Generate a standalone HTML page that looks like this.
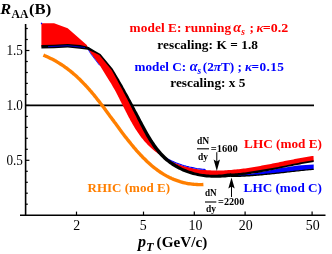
<!DOCTYPE html>
<html><head><meta charset="utf-8"><style>
html,body{margin:0;padding:0;background:#fff;}
svg{display:block;will-change:transform}
text{font-family:"Liberation Serif",serif;}
.b{font-weight:bold}
.i{font-style:italic}
</style></head><body>
<svg width="332" height="254" viewBox="0 0 332 254">
<rect width="332" height="254" fill="#fff"/>
<line x1="25.6" y1="24" x2="25.6" y2="216.0" stroke="#000" stroke-width="1.6"/>
<line x1="20" y1="215.2" x2="325.5" y2="215.2" stroke="#000" stroke-width="1.6"/>
<line x1="25.6" y1="105.4" x2="314" y2="105.4" stroke="#000" stroke-width="1.7"/>
<line x1="25.6" y1="204.2" x2="27.8" y2="204.2" stroke="#000" stroke-width="1.2"/>
<line x1="25.6" y1="193.2" x2="27.8" y2="193.2" stroke="#000" stroke-width="1.2"/>
<line x1="25.6" y1="182.3" x2="27.8" y2="182.3" stroke="#000" stroke-width="1.2"/>
<line x1="25.6" y1="171.3" x2="27.8" y2="171.3" stroke="#000" stroke-width="1.2"/>
<line x1="25.6" y1="160.3" x2="29.4" y2="160.3" stroke="#000" stroke-width="1.2"/>
<line x1="25.6" y1="149.3" x2="27.8" y2="149.3" stroke="#000" stroke-width="1.2"/>
<line x1="25.6" y1="138.3" x2="27.8" y2="138.3" stroke="#000" stroke-width="1.2"/>
<line x1="25.6" y1="127.4" x2="27.8" y2="127.4" stroke="#000" stroke-width="1.2"/>
<line x1="25.6" y1="116.4" x2="27.8" y2="116.4" stroke="#000" stroke-width="1.2"/>
<line x1="25.6" y1="105.4" x2="29.4" y2="105.4" stroke="#000" stroke-width="1.2"/>
<line x1="25.6" y1="94.4" x2="27.8" y2="94.4" stroke="#000" stroke-width="1.2"/>
<line x1="25.6" y1="83.4" x2="27.8" y2="83.4" stroke="#000" stroke-width="1.2"/>
<line x1="25.6" y1="72.5" x2="27.8" y2="72.5" stroke="#000" stroke-width="1.2"/>
<line x1="25.6" y1="61.5" x2="27.8" y2="61.5" stroke="#000" stroke-width="1.2"/>
<line x1="25.6" y1="50.5" x2="29.4" y2="50.5" stroke="#000" stroke-width="1.2"/>
<line x1="25.6" y1="39.5" x2="27.8" y2="39.5" stroke="#000" stroke-width="1.2"/>
<line x1="25.6" y1="28.5" x2="27.8" y2="28.5" stroke="#000" stroke-width="1.2"/>
<line x1="76.5" y1="215.2" x2="76.5" y2="211.6" stroke="#000" stroke-width="1.2"/>
<line x1="143.5" y1="215.2" x2="143.5" y2="211.6" stroke="#000" stroke-width="1.2"/>
<line x1="194.3" y1="215.2" x2="194.3" y2="211.6" stroke="#000" stroke-width="1.2"/>
<line x1="245.1" y1="215.2" x2="245.1" y2="211.6" stroke="#000" stroke-width="1.2"/>
<line x1="312.1" y1="215.2" x2="312.1" y2="211.6" stroke="#000" stroke-width="1.2"/>
<polygon points="41.4,23.2 54.1,23.2 67.7,28.3 86.8,45.0 88.2,48.2 88.2,48.4 80.0,46.9 67.7,45.7 54.0,46.5 41.4,46.8" fill="#ff0000"/>
<polygon points="87.0,47.0 90.9,53.6 99.9,65.4 105.4,74.5 109.6,81.2 110.4,82.4 111.1,83.6 111.9,84.9 112.6,86.2 113.3,87.4 114.1,88.7 114.8,90.0 115.5,91.3 116.2,92.6 116.9,94.0 117.6,95.3 118.3,96.7 119.0,98.0 119.7,99.4 120.3,100.7 121.0,102.1 121.7,103.5 122.4,104.8 123.1,106.2 123.8,107.6 124.5,109.0 125.2,110.3 125.9,111.7 126.6,113.1 127.3,114.5 128.0,115.8 128.7,117.2 129.5,118.6 130.2,119.9 130.9,121.3 131.7,122.6 132.5,124.0 133.2,125.3 134.0,126.6 134.8,127.9 135.6,129.2 136.5,130.5 137.3,131.8 138.2,133.0 139.0,134.3 139.9,135.5 140.8,136.7 141.7,137.9 142.7,139.1 143.6,140.3 144.6,141.4 145.6,142.5 146.6,143.6 147.6,144.7 148.7,145.8 149.8,146.8 150.9,147.8 152.0,148.8 153.1,149.8 154.3,150.8 155.5,151.7 156.7,152.6 157.9,153.5 159.1,154.3 160.4,155.2 161.7,156.0 163.0,156.8 164.2,157.6 165.6,158.3 166.9,159.0 168.2,159.7 169.6,160.4 170.9,161.1 172.3,161.7 173.7,162.3 175.1,162.9 176.5,163.5 177.9,164.0 179.3,164.5 180.7,165.0 182.2,165.5 183.6,165.9 185.0,166.4 186.5,166.8 187.9,167.1 189.4,167.5 190.8,167.8 192.3,168.1 193.7,168.4 195.2,168.7 196.7,169.0 198.2,169.2 199.6,169.4 201.1,169.6 202.6,169.8 204.1,169.9 205.6,170.0 207.1,170.2 208.6,170.3 210.1,170.3 211.6,170.4 213.1,170.5 214.6,170.5 216.1,170.5 217.6,170.5 219.1,170.5 220.7,170.5 222.2,170.4 223.7,170.4 225.2,170.3 226.7,170.2 228.3,170.1 229.8,170.0 231.3,169.9 232.8,169.8 234.4,169.6 235.9,169.5 237.4,169.3 238.9,169.2 240.5,169.0 242.0,168.8 243.5,168.6 245.1,168.4 246.6,168.2 248.1,167.9 249.7,167.7 251.2,167.5 252.7,167.2 254.2,167.0 255.8,166.7 257.3,166.4 258.8,166.2 260.3,165.9 261.9,165.6 263.4,165.3 264.9,165.1 266.4,164.8 267.9,164.5 269.5,164.2 271.0,163.9 272.5,163.6 274.0,163.3 275.5,163.0 277.0,162.7 278.5,162.4 280.0,162.1 281.5,161.8 283.0,161.4 284.5,161.1 286.0,160.8 287.4,160.5 288.9,160.3 290.4,160.0 291.9,159.7 293.3,159.4 294.8,159.1 296.3,158.8 297.7,158.5 299.2,158.3 300.6,158.0 302.1,157.7 303.5,157.5 305.0,157.2 306.4,157.0 307.8,156.8 309.2,156.5 310.6,156.3 312.1,156.1 313.5,155.9 313.7,161.1 312.2,161.3 310.6,161.6 309.1,161.8 307.6,162.1 306.1,162.4 304.5,162.7 303.0,162.9 301.5,163.2 299.9,163.5 298.4,163.8 296.9,164.1 295.4,164.4 293.9,164.7 292.3,165.0 290.8,165.3 289.3,165.6 287.8,165.9 286.2,166.2 284.7,166.5 283.2,166.9 281.7,167.2 280.1,167.5 278.6,167.8 277.1,168.1 275.6,168.4 274.0,168.7 272.5,169.0 271.0,169.3 269.5,169.6 267.9,169.9 266.4,170.2 264.9,170.4 263.4,170.7 261.8,171.0 260.3,171.2 258.8,171.5 257.2,171.7 255.7,172.0 254.2,172.2 252.6,172.4 251.1,172.7 249.6,172.9 248.0,173.1 246.5,173.2 244.9,173.4 243.4,173.6 241.9,173.7 240.3,173.9 238.8,174.0 237.2,174.1 235.7,174.2 234.1,174.3 232.6,174.4 231.0,174.5 231.1,174.9 229.6,175.2 228.1,175.4 226.6,175.6 225.0,175.7 223.5,175.9 222.0,176.0 220.4,176.1 218.9,176.2 217.4,176.2 215.8,176.3 214.3,176.3 212.7,176.3 211.2,176.2 209.7,176.1 208.1,176.0 206.6,175.9 205.1,175.8 203.6,175.6 202.1,175.3 200.6,175.1 199.1,174.8 197.6,174.5 196.1,174.2 194.7,173.8 193.2,173.4 191.7,173.0 190.3,172.6 188.9,172.1 187.5,171.6 186.1,171.1 184.7,170.5 183.3,169.9 182.0,169.3 180.6,168.7 179.3,168.0 178.0,167.3 176.7,166.6 175.4,165.8 174.1,165.1 172.9,164.3 171.7,163.4 170.5,162.6 169.3,161.7 168.1,160.8 167.0,159.8 165.8,158.9 164.7,157.9 163.7,156.8 162.6,155.8 161.6,154.7 160.6,153.6 159.6,152.5 158.6,151.4 157.7,150.2 156.7,149.0 155.8,147.8 154.9,146.6 154.0,145.4 153.2,144.1 152.3,142.9 151.5,141.6 150.7,140.3 149.9,139.0 149.1,137.7 148.3,136.4 147.5,135.0 146.7,133.7 146.0,132.3 145.2,131.0 144.5,129.6 143.8,128.2 143.0,126.9 142.3,125.5 141.6,124.1 140.9,122.8 140.2,121.4 139.5,120.0 138.8,118.7 138.1,117.3 137.4,116.0 136.7,114.6 136.0,113.2 135.3,111.9 134.6,110.6 133.9,109.2 133.2,107.9 132.5,106.5 131.8,105.2 131.1,103.9 130.4,102.5 129.7,101.2 129.0,99.9 128.3,98.5 127.6,97.2 126.9,95.9 126.2,94.6 125.5,93.2 124.8,91.9 124.1,90.6 123.4,89.3 122.6,88.0 121.9,86.7 121.2,85.3 120.5,84.0 119.7,82.7 119.0,81.4 118.3,80.1 117.5,78.8 116.8,77.5 116.0,76.1 115.3,74.8 114.5,73.5 113.8,72.2 113.0,70.9 112.2,69.6 99.9,54.5 94.0,51.4 88.2,48.4" fill="#ff0000"/>
<polyline points="86.7,47.0 90.6,53.6 99.6,65.4" fill="none" stroke="#0000ff" stroke-width="0.8"/>
<polyline points="164.2,157.1 165.6,157.8 166.9,158.5 168.2,159.2 169.6,159.9 170.9,160.6 172.3,161.2 173.7,161.8 175.1,162.4 176.5,163.0 177.9,163.5 179.3,164.0 180.7,164.5 182.2,165.0 183.6,165.4 185.0,165.9 186.5,166.3 187.9,166.6 189.4,167.0 190.8,167.3 192.3,167.6 193.7,167.9 195.2,168.2 196.7,168.5 198.2,168.7 199.6,168.9 201.1,169.1 202.6,169.3 204.1,169.4 205.6,169.5" fill="none" stroke="#0000ff" stroke-width="1.1"/>
<polygon points="231.0,174.5 232.6,174.4 234.1,174.3 235.7,174.2 237.2,174.1 238.8,174.0 240.3,173.9 241.9,173.7 243.4,173.6 244.9,173.4 246.5,173.2 248.0,173.1 249.6,172.9 251.1,172.7 251.0,175.6 249.4,175.7 247.9,175.8 246.4,175.9 244.8,175.9 243.3,176.0 241.8,176.1 240.2,176.1 238.7,176.2 237.2,176.2 235.6,176.3 234.1,176.3 232.5,176.3 231.0,176.3" fill="#000"/>
<polygon points="238.0,175.6 246.0,174.6 260.0,172.3 280.0,168.2 298.0,165.5 313.7,164.5 313.7,169.3 312.2,169.4 310.6,169.6 309.1,169.7 307.6,169.9 306.0,170.0 304.5,170.2 303.0,170.3 301.5,170.5 299.9,170.6 298.4,170.8 296.9,171.0 295.3,171.1 293.8,171.3 292.3,171.5 290.8,171.7 289.2,171.8 287.7,172.0 286.2,172.2 284.6,172.3 283.1,172.5 281.6,172.7 280.1,172.9 278.5,173.0 277.0,173.2 275.5,173.4 273.9,173.5 272.4,173.7 270.9,173.8 269.4,174.0 267.8,174.1 266.3,174.3 264.8,174.4 263.2,174.6 261.7,174.7 260.2,174.9 258.6,175.0 257.1,175.1 255.6,175.2 254.0,175.4 252.5,175.5 251.0,175.6 249.4,175.7 247.9,175.8 246.4,175.9 244.8,175.9 243.3,176.0 241.8,176.1 240.2,176.1 238.7,176.2" fill="#0000ff"/>
<polygon points="41.4,48.6 54.1,48.3 67.7,47.5 79.8,48.7 87.7,49.8 93.6,52.2 99.3,55.1 111.6,70.1 112.3,71.3 113.0,72.6 113.8,74.0 114.5,75.3 115.2,76.6 116.0,77.9 116.7,79.3 117.4,80.6 118.1,81.9 118.8,83.2 119.5,84.5 120.3,85.9 121.0,87.2 121.7,88.5 122.4,89.8 123.1,91.2 123.7,92.5 124.4,93.8 125.1,95.1 125.8,96.5 126.5,97.8 127.2,99.1 127.9,100.5 128.6,101.8 129.2,103.1 129.9,104.5 130.6,105.8 131.3,107.2 132.0,108.5 132.6,109.9 133.3,111.2 134.0,112.6 134.7,113.9 135.4,115.3 136.1,116.6 136.7,118.0 137.4,119.4 138.1,120.7 138.8,122.1 139.5,123.5 140.2,124.9 140.9,126.2 141.6,127.6 142.3,129.0 143.1,130.4 143.8,131.8 144.5,133.1 145.3,134.5 146.0,135.9 146.8,137.2 147.6,138.6 148.4,139.9 149.2,141.2 150.0,142.5 150.9,143.8 151.7,145.1 152.6,146.4 153.5,147.7 154.4,148.9 155.3,150.1 156.3,151.3 157.2,152.5 158.2,153.7 159.2,154.8 160.3,156.0 161.3,157.0 162.4,158.1 163.5,159.2 164.7,160.2 165.8,161.2 167.0,162.1 168.2,163.1 169.4,164.0 170.7,164.8 171.9,165.7 173.2,166.5 174.5,167.3 175.8,168.0 177.2,168.8 178.5,169.5 179.9,170.1 181.3,170.8 182.7,171.4 184.1,172.0 185.5,172.5 186.9,173.1 188.4,173.6 189.8,174.0 191.3,174.5 192.8,174.9 194.3,175.3 195.8,175.6 197.3,176.0 198.8,176.3 200.3,176.6 201.9,176.8 203.4,177.0 204.9,177.2 206.5,177.4 208.0,177.5 209.6,177.6 211.1,177.7 212.7,177.8 214.3,177.8 215.8,177.8 217.4,177.8 219.0,177.8 220.5,177.7 222.1,177.6 223.6,177.5 225.2,177.4 226.8,177.3 228.3,177.1 229.8,176.9 231.4,176.8 230.8,173.1 229.3,173.4 227.8,173.6 226.3,173.8 224.9,174.1 223.4,174.2 221.8,174.4 220.3,174.5 218.8,174.6 217.3,174.7 215.8,174.7 214.3,174.8 212.8,174.8 211.3,174.7 209.8,174.7 208.3,174.6 206.8,174.4 205.3,174.3 203.8,174.1 202.3,173.9 200.8,173.7 199.4,173.4 197.9,173.1 196.5,172.8 195.0,172.4 193.6,172.0 192.2,171.6 190.8,171.1 189.4,170.7 188.0,170.2 186.6,169.6 185.3,169.1 183.9,168.5 182.6,167.9 181.3,167.2 180.0,166.6 178.8,165.9 177.5,165.1 176.3,164.4 175.0,163.6 173.8,162.8 172.6,162.0 171.5,161.2 170.3,160.3 169.2,159.4 168.1,158.5 167.0,157.5 165.9,156.6 164.9,155.6 163.9,154.5 162.9,153.5 161.9,152.4 160.9,151.3 160.0,150.2 159.0,149.1 158.1,147.9 157.2,146.8 156.3,145.6 155.5,144.4 154.6,143.1 153.8,141.9 152.9,140.6 152.1,139.4 151.3,138.1 150.5,136.8 149.7,135.5 149.0,134.2 148.2,132.9 147.4,131.5 146.7,130.2 145.9,128.8 145.2,127.5 144.4,126.1 143.7,124.8 143.0,123.4 142.3,122.1 141.5,120.7 140.8,119.3 140.1,118.0 139.4,116.6 138.7,115.3 138.0,113.9 137.3,112.6 136.5,111.2 135.8,109.9 135.1,108.6 134.4,107.2 133.7,105.9 133.0,104.6 132.3,103.2 131.6,101.9 130.9,100.6 130.1,99.3 129.4,97.9 128.7,96.6 128.0,95.3 127.3,94.0 126.5,92.7 125.8,91.4 125.1,90.1 124.4,88.7 123.6,87.4 122.9,86.1 122.2,84.8 121.4,83.5 120.7,82.2 119.9,80.9 119.2,79.6 118.4,78.3 117.6,77.0 116.9,75.7 116.1,74.4 115.3,73.1 114.5,71.8 113.7,70.5 112.9,69.1 100.5,53.9 94.4,50.6 88.7,47.0 80.2,45.1 67.7,43.9 53.9,44.7 41.4,45.0" fill="#000"/>
<polygon points="231.0,175.4 232.6,175.3 234.2,175.3 235.7,175.2 237.3,175.1 238.8,175.0 240.4,174.9 241.9,174.8 243.5,174.6 245.1,174.5 246.6,174.3 248.2,174.1 249.7,173.9 251.2,173.7 252.8,173.5 254.3,173.3 255.9,173.1 257.4,172.9 259.0,172.7 260.5,172.4 262.0,172.1 263.6,171.8 265.1,171.5 266.6,171.2 268.1,170.9 269.7,170.6 271.2,170.3 272.7,170.0 274.2,169.7 275.8,169.3 277.3,169.0 278.8,168.7 280.3,168.4 281.8,168.1 283.4,167.7 284.9,167.4 286.4,167.1 287.9,166.8 289.5,166.5 291.0,166.2 292.5,165.9 294.0,165.6 295.6,165.3 297.1,165.0 298.6,164.7 300.1,164.4 301.6,164.1 303.2,163.8 304.7,163.5 306.2,163.3 307.7,163.0 309.3,162.7 310.8,162.5 312.3,162.2 313.8,162.0 313.6,160.2 312.0,160.5 310.5,160.7 309.0,161.0 307.4,161.2 305.9,161.5 304.4,161.8 302.8,162.0 301.3,162.3 299.8,162.6 298.3,162.9 296.7,163.2 295.2,163.5 293.7,163.8 292.2,164.1 290.6,164.4 289.1,164.7 287.6,165.0 286.1,165.4 284.5,165.7 283.0,166.0 281.5,166.3 280.0,166.6 278.4,166.9 276.9,167.2 275.4,167.4 273.9,167.7 272.3,168.0 270.8,168.3 269.3,168.5 267.7,168.8 266.2,169.1 264.7,169.3 263.2,169.6 261.6,169.8 260.1,170.1 258.6,170.3 257.1,170.6 255.5,170.8 254.0,171.1 252.5,171.3 250.9,171.6 249.4,171.8 247.9,172.0 246.4,172.2 244.8,172.4 243.3,172.6 241.8,172.7 240.2,172.9 238.7,173.0 237.1,173.2 235.6,173.3 234.1,173.4 232.5,173.5 231.0,173.6" fill="#000"/>
<polygon points="231.0,177.1 232.5,177.1 234.1,177.1 235.6,177.1 237.2,177.0 238.7,177.0 240.3,176.9 241.8,176.8 243.3,176.8 244.9,176.7 246.4,176.6 248.0,176.5 249.5,176.4 251.0,176.3 252.6,176.2 254.1,176.1 255.6,176.0 257.2,175.8 258.7,175.7 260.2,175.6 261.8,175.4 263.3,175.3 264.8,175.1 266.4,175.0 267.9,174.8 269.4,174.7 271.0,174.5 272.5,174.3 274.0,174.2 275.5,174.0 277.1,173.8 278.6,173.7 280.1,173.5 281.7,173.3 283.2,173.2 284.7,173.0 286.2,172.8 287.8,172.6 289.3,172.5 290.8,172.3 292.4,172.1 293.9,171.9 295.4,171.8 296.9,171.6 298.5,171.4 300.0,171.3 301.5,171.1 303.0,170.9 304.6,170.8 306.1,170.6 307.6,170.5 309.2,170.3 310.7,170.2 312.2,170.0 313.8,169.9 313.6,168.7 312.1,168.8 310.6,169.0 309.0,169.1 307.5,169.3 306.0,169.4 304.5,169.6 302.9,169.7 301.4,169.9 299.9,170.0 298.3,170.2 296.8,170.4 295.3,170.5 293.7,170.7 292.2,170.9 290.7,171.0 289.2,171.2 287.6,171.4 286.1,171.5 284.6,171.7 283.0,171.9 281.5,172.0 280.0,172.2 278.5,172.4 276.9,172.5 275.4,172.7 273.9,172.9 272.3,173.0 270.8,173.2 269.3,173.3 267.8,173.5 266.2,173.6 264.7,173.8 263.2,173.9 261.6,174.0 260.1,174.2 258.6,174.3 257.1,174.4 255.5,174.5 254.0,174.6 252.5,174.7 250.9,174.8 249.4,174.9 247.9,175.0 246.3,175.1 244.8,175.2 243.3,175.3 241.7,175.3 240.2,175.4 238.7,175.4 237.1,175.5 235.6,175.5 234.1,175.5 232.5,175.5 231.0,175.5" fill="#000"/>
<polyline points="48,46.7 67.7,45.7 85,47.5" fill="none" stroke="#0000ff" stroke-width="0.75"/>
<rect x="40.9" y="22.7" width="1.2" height="1.5" fill="#0000ff"/>
<polyline points="43.4,55.1 44.9,55.8 46.3,56.4 47.8,57.0 49.2,57.7 50.6,58.4 52.0,59.1 53.4,59.8 54.8,60.6 56.1,61.3 57.4,62.1 58.7,62.9 60.0,63.7 61.3,64.5 62.6,65.4 63.8,66.2 65.0,67.1 66.3,68.0 67.5,68.9 68.7,69.8 69.8,70.7 71.0,71.6 72.2,72.6 73.3,73.6 74.4,74.5 75.6,75.5 76.7,76.5 77.8,77.6 78.8,78.6 79.9,79.6 81.0,80.7 82.0,81.7 83.1,82.8 84.1,83.9 85.2,85.0 86.2,86.1 87.2,87.2 88.2,88.3 89.2,89.4 90.2,90.6 91.2,91.7 92.1,92.8 93.1,94.0 94.1,95.2 95.0,96.3 96.0,97.5 96.9,98.7 97.8,99.9 98.8,101.1 99.7,102.3 100.6,103.5 101.6,104.7 102.5,105.9 103.4,107.1 104.3,108.3 105.2,109.5 106.1,110.8 107.0,112.0 107.9,113.2 108.8,114.4 109.7,115.7 110.6,116.9 111.5,118.1 112.4,119.4 113.4,120.6 114.3,121.9 115.2,123.1 116.1,124.3 117.0,125.6 117.9,126.8 118.8,128.0 119.7,129.3 120.6,130.5 121.5,131.7 122.4,132.9 123.4,134.2 124.3,135.4 125.2,136.6 126.2,137.8 127.1,139.0 128.0,140.2 129.0,141.4 130.0,142.6 130.9,143.8 131.9,145.0 132.9,146.2 133.8,147.3 134.8,148.5 135.8,149.6 136.8,150.8 137.8,151.9 138.9,153.1 139.9,154.2 140.9,155.3 142.0,156.4 143.0,157.5 144.1,158.6 145.2,159.6 146.3,160.7 147.3,161.7 148.5,162.7 149.6,163.7 150.7,164.7 151.8,165.7 153.0,166.7 154.1,167.6 155.3,168.5 156.5,169.4 157.7,170.3 158.9,171.2 160.1,172.0 161.3,172.8 162.6,173.6 163.8,174.4 165.1,175.1 166.4,175.9 167.7,176.6 169.0,177.2 170.4,177.9 171.7,178.5 173.1,179.1 174.4,179.7 175.8,180.2 177.2,180.7 178.7,181.2 180.1,181.7 181.5,182.1 183.0,182.5 184.5,182.8 186.0,183.2 187.5,183.5 189.0,183.7 190.6,183.9 192.1,184.1 193.7,184.3 195.3,184.4 196.9,184.5 198.5,184.6 200.1,184.6 201.8,184.6 203.4,184.5" fill="none" stroke="#ff7f00" stroke-width="3.4"/>
<!-- arrows -->
<line x1="216.8" y1="152.2" x2="216.8" y2="162" stroke="#000" stroke-width="1"/>
<path d="M216.8,171 L213.6,159.6 L216.8,161.6 L220,159.6 Z" fill="#000"/>
<line x1="231.5" y1="197" x2="231.5" y2="186" stroke="#000" stroke-width="1"/>
<path d="M231.5,177.5 L228.3,188.5 L231.5,186.5 L234.7,188.5 Z" fill="#000"/>
<!-- tick labels -->
<g font-size="13.6" fill="#000">
<text x="6.4" y="55.0" textLength="16.5" lengthAdjust="spacingAndGlyphs">1.5</text>
<text x="6.4" y="109.7" textLength="16.5" lengthAdjust="spacingAndGlyphs">1.0</text>
<text x="6.4" y="165.0" textLength="16.5" lengthAdjust="spacingAndGlyphs">0.5</text>
</g>
<g font-size="13.9" fill="#000">
<text x="76.8" y="229.9" text-anchor="middle">2</text>
<text x="143.3" y="229.9" text-anchor="middle">5</text>
<text x="195.4" y="229.9" text-anchor="middle">10</text>
<text x="245.7" y="229.9" text-anchor="middle">20</text>
<text x="312.7" y="229.9" text-anchor="middle">50</text>
</g>
<!-- title -->
<text class="b i" font-size="15.6" x="0.3" y="14.1" textLength="10.9" lengthAdjust="spacingAndGlyphs">R</text>
<text class="b" font-size="11.8" x="11.5" y="17.8" textLength="16.8" lengthAdjust="spacingAndGlyphs">AA</text>
<text class="b" font-size="15.6" x="29.0" y="14.1" textLength="22.2" lengthAdjust="spacingAndGlyphs">(B)</text>
<!-- x label -->
<text class="b i" font-size="16" x="138.1" y="247.1">p</text>
<text class="b i" font-size="12.4" x="145.9" y="250.6">T</text>
<text class="b" font-size="15.6" x="156.6" y="247.1" textLength="50.6" lengthAdjust="spacingAndGlyphs">(GeV/c)</text>
<!-- legend -->
<g class="b" font-size="13.3">
<text x="129.6" y="32.2" fill="#ff0000" textLength="101.5">model E: running</text>
<text x="233.3" y="32.2" fill="#ff0000" class="i" font-size="14.3">α</text>
<text x="241.3" y="35.3" fill="#ff0000" class="i" font-size="9.4">s</text>
<text x="249.4" y="32.2" fill="#ff0000">;</text>
<text x="256.6" y="32.2" fill="#ff0000" class="i">κ</text>
<text x="262.7" y="32.2" fill="#ff0000" textLength="25.5" lengthAdjust="spacingAndGlyphs">=0.2</text>
<text x="157.3" y="48.6" fill="#000" textLength="100.7">rescaling: K = 1.8</text>
<text x="134.6" y="70.5" fill="#0000ff" textLength="51.5" lengthAdjust="spacingAndGlyphs">model C:</text>
<text x="189.8" y="70.5" fill="#0000ff" class="i" font-size="14.3">α</text>
<text x="197.6" y="73.6" fill="#0000ff" class="i" font-size="9.4">s</text>
<text x="202.8" y="70.5" fill="#0000ff">(2</text>
<text x="213.8" y="70.5" fill="#0000ff" class="i">π</text>
<text x="221" y="70.5" fill="#0000ff">T)</text>
<text x="237.5" y="70.5" fill="#0000ff">;</text>
<text x="244.9" y="70.5" fill="#0000ff" class="i">κ</text>
<text x="251.6" y="70.5" fill="#0000ff" textLength="32.3">=0.15</text>
<text x="170.3" y="87" fill="#000" textLength="75.1">rescaling: x 5</text>
</g>
<g class="b" font-size="13.2">
<text x="244.1" y="147.7" fill="#ff0000" textLength="77.8" lengthAdjust="spacingAndGlyphs">LHC (mod E)</text>
<text x="243.6" y="192.4" fill="#0000ff" textLength="78.4" lengthAdjust="spacingAndGlyphs">LHC (mod C)</text>
<text x="87.5" y="192.1" fill="#ff7f00" textLength="82.5" lengthAdjust="spacingAndGlyphs">RHIC (mod E)</text>
</g>
<!-- dN/dy labels -->
<g class="b" font-size="10.4" fill="#000">
<text x="196.9" y="143.5" textLength="12.2" lengthAdjust="spacingAndGlyphs">dN</text>
<line x1="197" y1="148.8" x2="209" y2="148.8" stroke="#000" stroke-width="1.1"/>
<text x="198" y="160" textLength="10" lengthAdjust="spacingAndGlyphs">dy</text>
<text x="210.7" y="151.6" textLength="27" lengthAdjust="spacingAndGlyphs">=1600</text>
<text x="205" y="195.5" textLength="11.7" lengthAdjust="spacingAndGlyphs">dN</text>
<line x1="205" y1="202" x2="216.3" y2="202" stroke="#000" stroke-width="1.1"/>
<text x="206" y="211.5" textLength="10" lengthAdjust="spacingAndGlyphs">dy</text>
<text x="218.1" y="204.9" textLength="26.2" lengthAdjust="spacingAndGlyphs">=2200</text>
</g>
</svg>
</body></html>
